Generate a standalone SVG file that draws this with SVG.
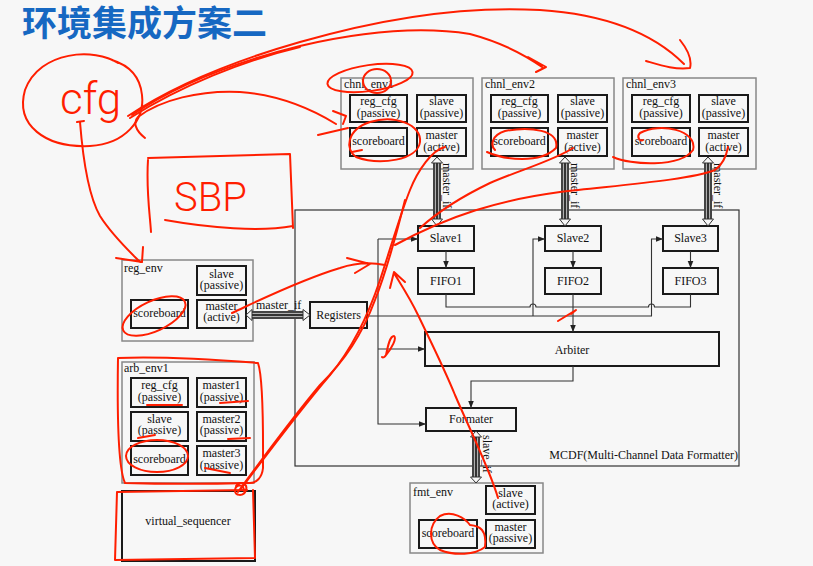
<svg xmlns="http://www.w3.org/2000/svg" width="813" height="566" viewBox="0 0 813 566">
<defs>
<style>
.env{fill:none;stroke:#888;stroke-width:1.5}
.blk{fill:none;stroke:#1a1a1a;stroke-width:2}
.mcdf{fill:none;stroke:#333;stroke-width:1.2}
.t{font-family:"Liberation Serif","Times New Roman",serif;font-size:12px;fill:#111;text-anchor:middle}
.tl{font-family:"Liberation Serif","Times New Roman",serif;font-size:12px;fill:#111}
.w{fill:none;stroke:#333;stroke-width:1.1}
.hd{fill:#f7f7f7;stroke:#333;stroke-width:1}
.red{fill:none;stroke:#ff1e00;stroke-width:2;stroke-linecap:round;stroke-linejoin:round}
.rt{font-family:Roboto,"Open Sans",sans-serif;font-weight:300;fill:#ff1e00}
</style>
<marker id="ar" viewBox="0 0 10 10" refX="10" refY="5" markerWidth="7" markerHeight="7" orient="auto" markerUnits="userSpaceOnUse">
<path d="M0,1 L10,5 L0,9 Z" fill="#222"/>
</marker>
<linearGradient id="gv" x1="0" y1="0" x2="1" y2="0">
<stop offset="0" stop-color="#444"/><stop offset="0.2" stop-color="#444"/>
<stop offset="0.2" stop-color="#b0b0b0"/><stop offset="0.38" stop-color="#b0b0b0"/>
<stop offset="0.38" stop-color="#333"/><stop offset="0.62" stop-color="#333"/>
<stop offset="0.62" stop-color="#b0b0b0"/><stop offset="0.8" stop-color="#b0b0b0"/>
<stop offset="0.8" stop-color="#444"/><stop offset="1" stop-color="#444"/>
</linearGradient>
<linearGradient id="gh" x1="0" y1="0" x2="0" y2="1">
<stop offset="0" stop-color="#444"/><stop offset="0.2" stop-color="#444"/>
<stop offset="0.2" stop-color="#b0b0b0"/><stop offset="0.38" stop-color="#b0b0b0"/>
<stop offset="0.38" stop-color="#333"/><stop offset="0.62" stop-color="#333"/>
<stop offset="0.62" stop-color="#b0b0b0"/><stop offset="0.8" stop-color="#b0b0b0"/>
<stop offset="0.8" stop-color="#444"/><stop offset="1" stop-color="#444"/>
</linearGradient>
</defs>
<rect x="0" y="0" width="813" height="566" fill="#f7f7f7"/>

<text x="22" y="36" font-family="'Noto Sans CJK SC',sans-serif" font-size="35" font-weight="bold" fill="#1668c2">环境集成方案二</text>

<g id="mcdf">
<rect class="mcdf" x="295" y="210" width="444" height="256"/>
<text class="tl" x="738" y="459" text-anchor="end">MCDF(Multi-Channel Data Formatter)</text>
</g>

<g id="chnl_env1">
<rect class="env" x="341" y="78" width="132" height="91"/>
<text class="tl" x="344" y="88">chnl_env1</text>
<rect class="blk" x="350" y="95" width="57" height="27"/>
<text class="t" x="378.5" y="105">reg_cfg</text><text class="t" x="378.5" y="117">(passive)</text>
<rect class="blk" x="417" y="95" width="49" height="27"/>
<text class="t" x="441.5" y="105">slave</text><text class="t" x="441.5" y="117">(passive)</text>
<rect class="blk" x="350" y="128" width="57" height="28"/>
<text class="t" x="378.5" y="145">scoreboard</text>
<rect class="blk" x="417" y="128" width="49" height="28"/>
<text class="t" x="441.5" y="139">master</text><text class="t" x="441.5" y="151">(active)</text>
</g>
<g id="chnl_env2">
<rect class="env" x="482" y="78" width="132" height="91"/>
<text class="tl" x="485" y="88">chnl_env2</text>
<rect class="blk" x="491" y="95" width="57" height="27"/>
<text class="t" x="519.5" y="105">reg_cfg</text><text class="t" x="519.5" y="117">(passive)</text>
<rect class="blk" x="558" y="95" width="49" height="27"/>
<text class="t" x="582.5" y="105">slave</text><text class="t" x="582.5" y="117">(passive)</text>
<rect class="blk" x="491" y="128" width="57" height="28"/>
<text class="t" x="519.5" y="145">scoreboard</text>
<rect class="blk" x="558" y="128" width="49" height="28"/>
<text class="t" x="582.5" y="139">master</text><text class="t" x="582.5" y="151">(active)</text>
</g>
<g id="chnl_env3">
<rect class="env" x="623" y="78" width="133" height="91"/>
<text class="tl" x="626" y="88">chnl_env3</text>
<rect class="blk" x="632" y="95" width="58" height="27"/>
<text class="t" x="661" y="105">reg_cfg</text><text class="t" x="661" y="117">(passive)</text>
<rect class="blk" x="699" y="95" width="49" height="27"/>
<text class="t" x="723.5" y="105">slave</text><text class="t" x="723.5" y="117">(passive)</text>
<rect class="blk" x="632" y="128" width="58" height="28"/>
<text class="t" x="661" y="145">scoreboard</text>
<rect class="blk" x="699" y="128" width="49" height="28"/>
<text class="t" x="723.5" y="139">master</text><text class="t" x="723.5" y="151">(active)</text>
</g>

<g id="reg_env">
<rect class="env" x="122" y="260" width="131" height="81"/>
<text class="tl" x="124" y="272">reg_env</text>
<rect class="blk" x="197" y="266" width="49" height="29"/>
<text class="t" x="221.5" y="278">slave</text><text class="t" x="221.5" y="289">(passive)</text>
<rect class="blk" x="131" y="300" width="57" height="28"/>
<text class="t" x="159.5" y="317">scoreboard</text>
<rect class="blk" x="197" y="300" width="49" height="28"/>
<text class="t" x="221.5" y="310">master</text><text class="t" x="221.5" y="321">(active)</text>
</g>

<g id="arb_env1">
<rect class="env" x="122" y="362" width="132" height="121"/>
<text class="tl" x="124" y="372">arb_env1</text>
<rect class="blk" x="131" y="378" width="57" height="29"/>
<text class="t" x="159.5" y="389">reg_cfg</text><text class="t" x="159.5" y="401">(passive)</text>
<rect class="blk" x="197" y="378" width="49" height="29"/>
<text class="t" x="221.5" y="389">master1</text><text class="t" x="221.5" y="401">(passive)</text>
<rect class="blk" x="131" y="412" width="57" height="29"/>
<text class="t" x="159.5" y="423">slave</text><text class="t" x="159.5" y="434">(passive)</text>
<rect class="blk" x="197" y="412" width="49" height="29"/>
<text class="t" x="221.5" y="423">master2</text><text class="t" x="221.5" y="434">(passive)</text>
<rect class="blk" x="131" y="446" width="57" height="29"/>
<text class="t" x="159.5" y="463">scoreboard</text>
<rect class="blk" x="197" y="446" width="49" height="29"/>
<text class="t" x="221.5" y="457">master3</text><text class="t" x="221.5" y="469">(passive)</text>
</g>

<g id="virtual_sequencer">
<rect class="blk" x="122" y="491" width="133" height="70" stroke-width="1.5"/>
<text class="t" x="188" y="525">virtual_sequencer</text>
</g>

<g id="fmt_env">
<rect class="env" x="410" y="483" width="133" height="70"/>
<text class="tl" x="413" y="496">fmt_env</text>
<rect class="blk" x="486" y="486" width="49" height="28"/>
<text class="t" x="510.5" y="497">slave</text><text class="t" x="510.5" y="508">(active)</text>
<rect class="blk" x="419" y="520" width="58" height="28"/>
<text class="t" x="448" y="537">scoreboard</text>
<rect class="blk" x="486" y="520" width="49" height="28"/>
<text class="t" x="510.5" y="531">master</text><text class="t" x="510.5" y="542">(passive)</text>
</g>

<g id="Slave1"><rect class="blk" x="418" y="226" width="56" height="25"/><text class="t" x="446" y="242">Slave1</text></g>
<g id="Slave2"><rect class="blk" x="545" y="226" width="56" height="25"/><text class="t" x="573" y="242">Slave2</text></g>
<g id="Slave3"><rect class="blk" x="663" y="226" width="55" height="25"/><text class="t" x="690.5" y="242">Slave3</text></g>
<g id="FIFO1"><rect class="blk" x="418" y="268" width="56" height="26"/><text class="t" x="446" y="285">FIFO1</text></g>
<g id="FIFO2"><rect class="blk" x="545" y="268" width="56" height="26"/><text class="t" x="573" y="285">FIFO2</text></g>
<g id="FIFO3"><rect class="blk" x="663" y="268" width="55" height="26"/><text class="t" x="690.5" y="285">FIFO3</text></g>
<g id="Registers"><rect class="blk" x="310" y="302" width="57" height="26"/><text class="t" x="338.5" y="319">Registers</text></g>
<g id="Arbiter"><rect class="blk" x="425" y="332" width="294" height="34"/><text class="t" x="572" y="354">Arbiter</text></g>
<g id="Formater"><rect class="blk" x="426" y="408" width="90" height="23"/><text class="t" x="471" y="423">Formater</text></g>

<g id="connectors">
<path class="w" d="M446,251 V268" marker-end="url(#ar)"/>
<path class="w" d="M573,251 V268" marker-end="url(#ar)"/>
<path class="w" d="M690.5,251 V268" marker-end="url(#ar)"/>
<path class="w" d="M446,294 V307 H530 a3,3 0 0 1 6,0 H648.5 a3,3 0 0 1 6,0 H690.5 V294"/>
<path class="w" d="M573,294 V332" marker-end="url(#ar)"/>
<path class="w" d="M367,316 H651.5 V239 H663" marker-end="url(#ar)"/>
<path class="w" d="M533,316 V239 H545" marker-end="url(#ar)"/>
<path class="w" d="M378,239 H418" marker-end="url(#ar)"/>
<path class="w" d="M378,239 V424 H426" marker-end="url(#ar)"/>
<path class="w" d="M378,349 H425" marker-end="url(#ar)"/>
<path class="w" d="M573,366 V381 H471 V408" marker-end="url(#ar)"/>

<g id="if1">
<rect x="433" y="163" width="8" height="56" fill="url(#gv)"/>
<polygon class="hd" points="437,157 431.5,163 442.5,163"/>
<polygon class="hd" points="437,226 431.5,219 442.5,219"/>
<text class="tl" transform="translate(443,163) rotate(90)">master_if</text>
</g>
<g id="if2">
<rect x="561" y="163" width="8" height="56" fill="url(#gv)"/>
<polygon class="hd" points="565,157 559.5,163 570.5,163"/>
<polygon class="hd" points="565,226 559.5,219 570.5,219"/>
<text class="tl" transform="translate(571,163) rotate(90)">master_if</text>
</g>
<g id="if3">
<rect x="704" y="163" width="8" height="56" fill="url(#gv)"/>
<polygon class="hd" points="708,157 702.5,163 713.5,163"/>
<polygon class="hd" points="708,226 702.5,219 713.5,219"/>
<text class="tl" transform="translate(714,163) rotate(90)">master_if</text>
</g>
<g id="if_reg">
<rect x="252" y="311" width="51" height="8" fill="url(#gh)"/>
<polygon class="hd" points="246,315 252,309.5 252,320.5"/>
<polygon class="hd" points="310,315 303,309.5 303,320.5"/>
<text class="tl" x="256" y="309">master_if</text>
</g>
<g id="if_fmt">
<rect x="472" y="437" width="8" height="40" fill="url(#gv)"/>
<polygon class="hd" points="476,431 470.5,437 481.5,437"/>
<polygon class="hd" points="476,483 470.5,477 481.5,477"/>
<text class="tl" transform="translate(483,435) rotate(90)">slave_if</text>
</g>
</g>

<g id="annotations">
<path class="red" d="M118,63 C95,48 40,50 25,90 C15,125 45,148 90,146 C125,144 145,120 142,95 C140,75 128,65 112,60"/>
<text class="rt" x="60" y="114" font-size="44">cfg</text>
<path class="red" d="M77,122 L84,121 M80,122 C83,160 88,195 100,216 C112,235 128,250 140,262 M116,258 L142,262 L143,247"/>
<path class="red" d="M148,158 L290,154 L293,228 M293,226 C260,232 210,228 165,220 M148,160 C146,190 150,215 151,232"/>
<text class="rt" x="174" y="211" font-size="40">SBP</text>
<path class="red" d="M128,116 C170,88 230,62 300,42 C390,16 470,6 540,10 C600,14 650,30 684,64 M680,40 C688,50 692,60 690,68 C675,70 660,65 646,61"/>
<path class="red" d="M132,115 C175,86 235,62 300,46 C360,32 420,26 470,34 C500,42 525,55 542,67 M528,57 L546,67 L536,72"/>
<path class="red" d="M130,118 C180,86 245,60 300,47"/>
<path class="red" d="M145,138 C135,130 133,122 138,117 C160,100 200,90 240,92 C280,95 310,108 336,124 M333,111 L346,116 L343,124 M348,128 L318,135"/>
<ellipse class="red" cx="370" cy="78" rx="43" ry="13" transform="rotate(-8 370 78)"/>
<ellipse class="red" cx="377" cy="81" rx="14" ry="12"/>
<path class="red" d="M370,122 C395,114 422,125 420,142 C418,160 380,166 356,157 C345,150 346,130 370,122 M352,152 L362,150"/>
<path class="red" d="M487,152 C505,160 540,164 556,148 C560,130 530,126 505,131 C492,135 490,145 495,150"/>
<path class="red" d="M613,157 C630,165 680,168 693,150 C698,130 660,122 640,133 C636,137 640,142 643,140"/>
<path class="red" d="M445,147 C432,150 418,170 410,190 C400,215 390,250 380,280 C370,310 355,345 330,375 C300,410 270,450 240,490"/>
<path class="red" d="M405,200 C395,240 385,275 375,300 C362,335 345,360 320,385 C295,415 265,455 238,492"/>
<path class="red" d="M573,148 C555,160 520,170 490,183 C465,195 440,210 420,228"/>
<path class="red" d="M728,147 C726,158 722,165 715,170 C690,180 620,185 560,192 C500,200 450,215 395,245"/>
<path class="red" d="M232,313 C260,300 300,280 340,268 C355,263 370,262 385,265 M347,258 L370,264 L355,273"/>
<path class="red" d="M498,498 C490,470 470,430 455,395 C445,370 430,340 418,315 C410,298 400,283 394,273 M390,288 L394,272 L405,282"/>
<path class="red" d="M558,321 L576,310 L571,314"/>
<path class="red" d="M386,355 C392,348 397,338 394,336 C390,336 388,345 386,355 C385,357 383,358 382,357"/>
<ellipse class="red" cx="154" cy="316" rx="34" ry="15" transform="rotate(-25 154 316)"/>
<path class="red" d="M118,358 C160,356 220,360 258,363 C264,380 263,440 263,468 C262,478 256,483 250,483 C210,484 160,484 125,483 C119,470 117,420 118,358"/>
<path class="red" d="M147,405 L182,405 M220,403 L248,401 M138,438 L155,435 M228,439 L250,438 M205,468 L230,473"/>
<ellipse class="red" cx="157" cy="456" rx="31" ry="16"/>
<path class="red" d="M117,492 L247,490 M253,490 L255,558 L115,560 L117,492"/>
<path class="red" d="M236,486 C240,480 248,484 246,490 C244,497 234,496 235,490 C236,484 244,484 244,491"/>
<path class="red" d="M470,525 C480,526 487,530 485,547 C475,555 455,556 440,550 C428,543 428,525 440,516 C452,510 465,518 470,525"/>
</g>
</svg>
